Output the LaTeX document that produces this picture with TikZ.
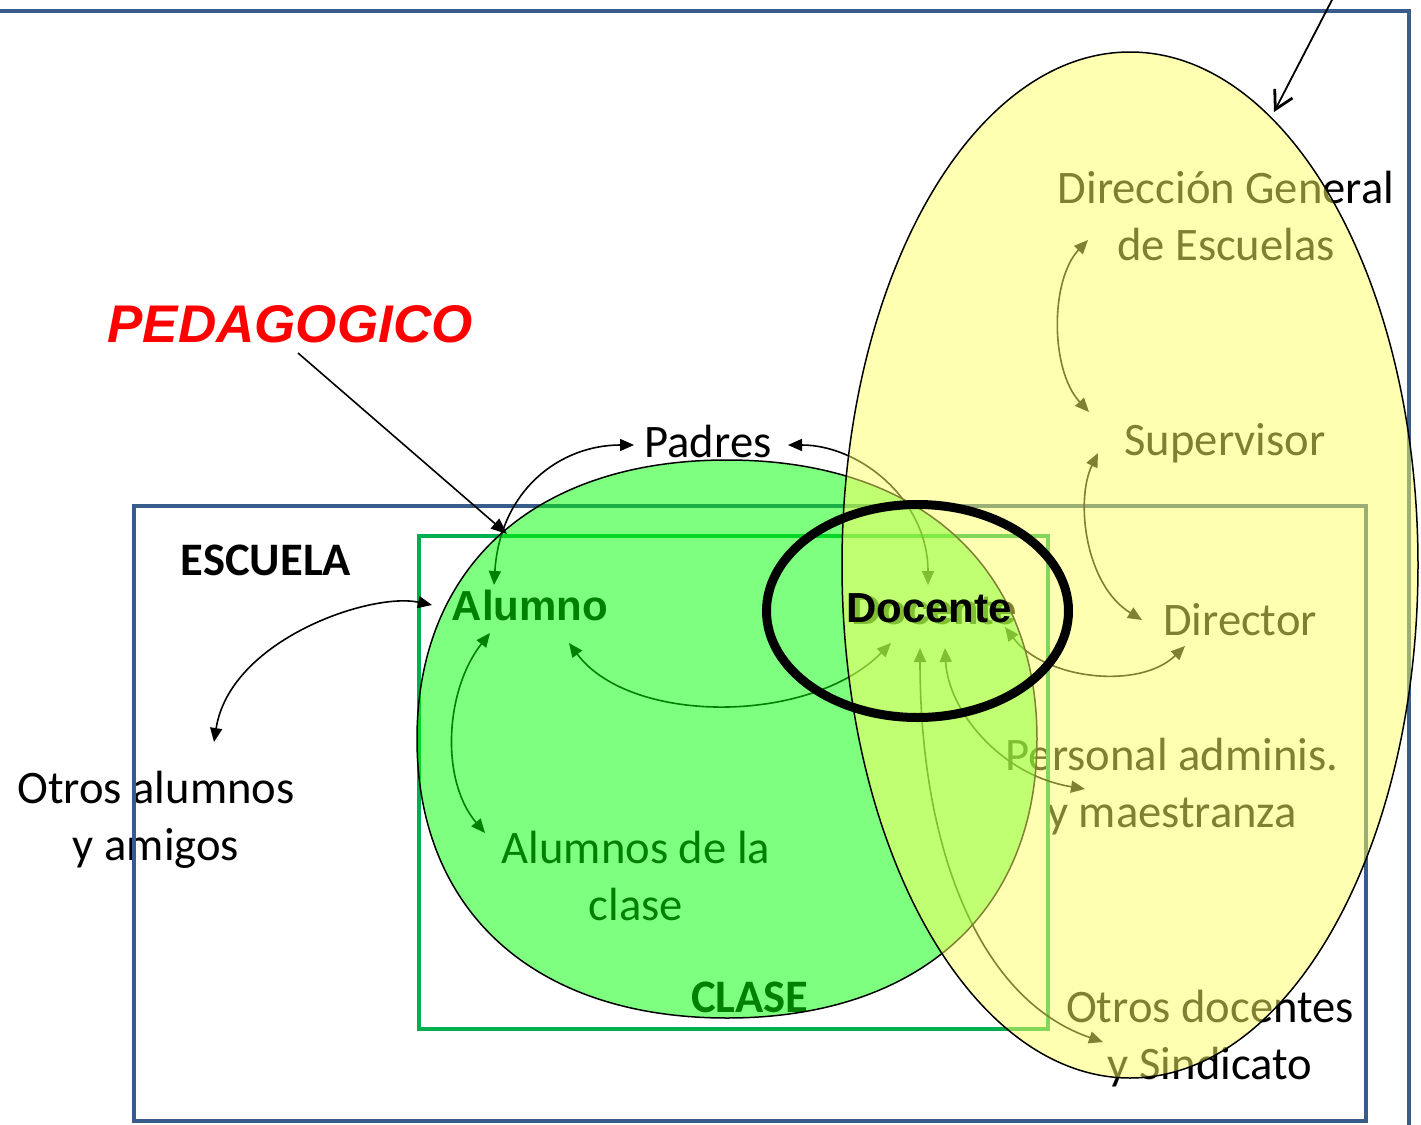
\documentclass[tikz,border=0pt]{standalone}
\usepackage{fontspec}
\setmainfont{Carlito}
\newfontfamily\arialfont{Liberation Sans}
\usetikzlibrary{arrows.meta}
\definecolor{boxblue}{RGB}{56,93,138}
\definecolor{clasegreen}{RGB}{0,176,80}
\definecolor{greenfill}{RGB}{0,255,0}
\definecolor{yellowfill}{RGB}{255,255,100}
\definecolor{pedred}{RGB}{255,0,0}
\newcommand{\mytwo}[2]{\begin{tabular}[t]{@{}c@{}}#1\\#2\end{tabular}}
\begin{document}
\begin{tikzpicture}[x=0.5pt,y=-0.5pt,
  lbl/.style={font=\fontsize{23.3}{28.5}\selectfont, inner sep=0pt, anchor=base},
  blbl/.style={font=\fontsize{23.3}{28.5}\selectfont\bfseries, inner sep=0pt, anchor=base},
  albl/.style={font=\arialfont\bfseries\fontsize{21}{25}\selectfont, inner sep=0pt, anchor=base},
  reltip/.tip={Triangle[length=7pt,width=6pt]},
  rel/.style={line width=0.8pt, reltip-reltip},
  boxline/.style={draw=boxblue, line width=2pt},
  ]
\useasboundingbox (0,0) rectangle (1421,1125);
\clip (0,0) rectangle (1421,1125);

% ---- texts (under the overlays) ----
\node[lbl] (otros) at (156,803) {\mytwo{Otros alumnos}{y amigos}};
\node[lbl] (padres) at (708,457) {Padres};
\node[albl] (alumno) at (530,620) {Alumno};
\node[lbl] (aclase) at (636,863) {\mytwo{Alumnos de la}{clase}};
\node[blbl] (clase) at (750,1012) {CLASE};
\node[blbl] (escuela) at (266,575) {ESCUELA};
\node[lbl] (dge) at (1226,203) {\mytwo{Dirección General}{de Escuelas}};
\node[lbl] (super) at (1225,455) {Supervisor};
\node[lbl] (director) at (1240,635) {Director};
\node[lbl] (personal) at (1172,770) {\mytwo{Personal adminis.}{y maestranza}};
\node[lbl] (otrosdoc) at (1210,1022) {\mytwo{Otros docentes}{y Sindicato}};
\node[albl] (docsh) at (934,624) {Docente};

% ---- frames ----
\draw[boxline] (-20,10.5) rectangle (1408.5,1200);
\draw[boxline] (134,506) rectangle (1366,1121);
\draw[draw=clasegreen, line width=2.3pt] (419,536) rectangle (1048,1029);

% ---- connector end points ----
\coordinate (alTop) at (494,585);
\coordinate (paL) at (634,445);
\coordinate (paR) at (788,445);
\coordinate (doTop) at (928,585);
\coordinate (alLeft) at (432,605);
\coordinate (otBot) at (214,742);
\coordinate (alBot) at (490,633);
\coordinate (acTop) at (485,833);
\coordinate (alR) at (569,643);
\coordinate (doL) at (891,643);
\coordinate (dgBot) at (1088,240);
\coordinate (suTop) at (1089,412);
\coordinate (suBot) at (1098,453);
\coordinate (diL) at (1142,620);
\coordinate (doR) at (1005,627);
\coordinate (diBot) at (1185,646);
\coordinate (doB2) at (945,648);
\coordinate (peL) at (1085,789);
\coordinate (doB1) at (920,648);
\coordinate (odL) at (1103,1042);

% ---- relations ----
\draw[rel] (alTop) .. controls (500,490) and (560,445) .. (paL);
\draw[rel] (paR) .. controls (860,445) and (928,500) .. (doTop);
\draw[rel] (alLeft) .. controls (370,592) and (230,640) .. (otBot);
\draw[rel] (alBot) .. controls (445,690) and (440,780) .. (acTop);
\draw[rel] (alR) .. controls (630,725) and (810,725) .. (doL);
\draw[rel] (dgBot) .. controls (1050,280) and (1050,370) .. (suTop);
\draw[rel] (suBot) .. controls (1075,500) and (1085,585) .. (diL);
\draw[rel] (doR) .. controls (1045,680) and (1140,690) .. (diBot);
\draw[rel] (doB2) .. controls (948,710) and (1000,775) .. (peL);
\draw[rel] (doB1) .. controls (920,850) and (980,1000) .. (odL);

% ---- overlays ----
\filldraw[fill=greenfill, fill opacity=0.5, draw=black, line width=0.75pt]
  (1037,739) .. controls (1037,566) and (919,460) .. (727,460)
  .. controls (535,460) and (417,566) .. (417,739)
  .. controls (417,912) and (535,1018) .. (727,1018)
  .. controls (919,1018) and (1037,912) .. (1037,739) -- cycle;
\filldraw[fill=yellowfill, fill opacity=0.5, draw=black, line width=0.75pt]
  (1130,565) ellipse [x radius=144pt, y radius=256.5pt];
\draw[line width=4.5pt] (917.5,611) ellipse [x radius=75.5pt, y radius=53.25pt];

\node[albl] (docente) at (929,622) {Docente};

% ---- pointers ----
\node[font=\arialfont\bfseries\itshape\fontsize{26.5}{30}\selectfont, text=pedred, inner sep=0pt, anchor=base] (ped) at (290,342) {PEDAGOGICO};
\coordinate (pedS) at (298,353);
\coordinate (pedE) at (507,534);
\draw[line width=0.8pt, -{Triangle[length=8pt,width=6.5pt]}] (pedS) -- (pedE);
\coordinate (trS) at (1333,-2);
\coordinate (trE) at (1274,112);
\draw[line width=0.9pt, -{Straight Barb[length=9pt,width=10pt,line width=1.4pt]}] (trS) -- (trE);
\end{tikzpicture}
\end{document}
